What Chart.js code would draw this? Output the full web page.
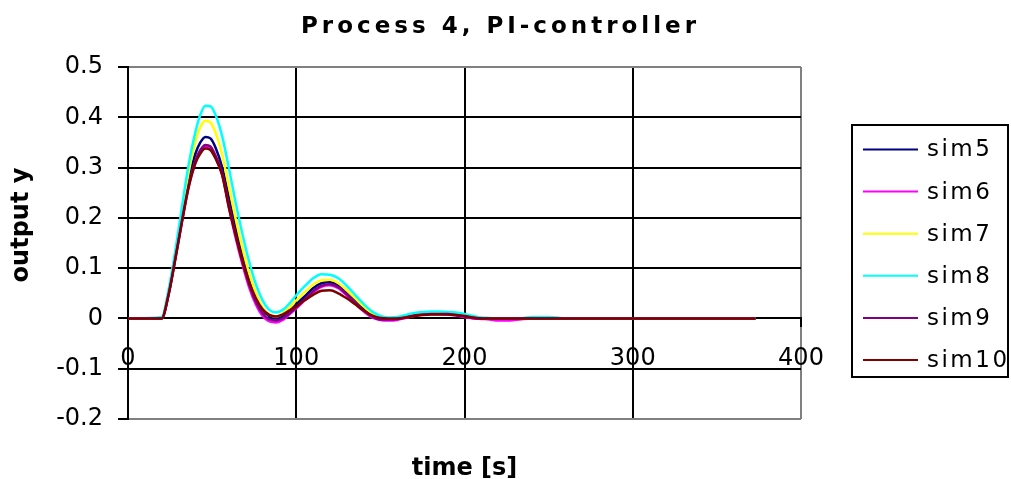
<!DOCTYPE html>
<html>
<head>
<meta charset="utf-8">
<script src="https://cdn.jsdelivr.net/npm/chart.js@4.4.0/dist/chart.umd.min.js"></script>
<style>
html,body{margin:0;padding:0;background:#fff;}
#wrap{width:1011px;height:479px;position:relative;}
</style>
</head>
<body>
<div id="wrap"><canvas id="c" width="1011" height="479"></canvas></div>
<script>
const TITLE = 'Process 4, PI-controller';
const X_TITLE = 'time [s]';
const Y_TITLE = 'output y';

const seriesNames = ['sim5', 'sim6', 'sim7', 'sim8', 'sim9', 'sim10'];
const seriesColors = ['#000080', '#FF00FF', '#FFFF00', '#00FFFF', '#800080', '#800000'];

const xTicks = [0, 100, 200, 300, 400];
const yTicks = [-0.2, -0.1, 0, 0.1, 0.2, 0.3, 0.4, 0.5];

const times = [0,20,24,28,32,36,40,43,46,49,52,56,60,64,68,72,76,80,84,88,92,96,100,105,110,115,120,125,130,135,140,145,150,155,160,165,170,175,180,185,190,195,200,205,210,215,220,225,230,235,240,245,250,255,260,373];

const sim5 = [0,0,0.048,0.12,0.2,0.275,0.327,0.35,0.361,0.358,0.34,0.3,0.24,0.18,0.125,0.078,0.042,0.017,0.004,0.0,0.004,0.015,0.028,0.044,0.06,0.07,0.072,0.066,0.052,0.036,0.02,0.008,0.001,-0.001,0,0.003,0.007,0.009,0.01,0.01,0.01,0.009,0.006,0.002,0,0,0,0,0,0,0,0,0,0,0,0];
const sim6 = [0,0,0.046,0.117,0.192,0.262,0.31,0.332,0.342,0.338,0.32,0.285,0.22,0.16,0.108,0.062,0.028,0.005,-0.006,-0.008,-0.003,0.008,0.02,0.036,0.052,0.063,0.066,0.06,0.046,0.03,0.014,0.002,-0.003,-0.004,-0.003,0.001,0.005,0.008,0.009,0.009,0.008,0.006,0.003,0,-0.001,-0.002,-0.004,-0.004,-0.003,-0.001,0,0,0,0,0,0];
const sim7 = [0,0,0.05,0.125,0.21,0.29,0.35,0.38,0.393,0.39,0.37,0.325,0.262,0.198,0.14,0.09,0.05,0.022,0.008,0.004,0.01,0.022,0.036,0.052,0.067,0.076,0.077,0.07,0.056,0.04,0.024,0.01,0.002,0,0.001,0.004,0.008,0.01,0.011,0.011,0.011,0.01,0.007,0.003,0.001,0,0,0,0,0,0,0,0,0,0,0];
const sim8 = [0,0.003,0.055,0.132,0.22,0.305,0.37,0.405,0.423,0.422,0.405,0.362,0.298,0.23,0.168,0.113,0.068,0.036,0.017,0.012,0.017,0.03,0.046,0.064,0.08,0.088,0.087,0.08,0.065,0.047,0.029,0.014,0.005,0.002,0.003,0.007,0.011,0.013,0.014,0.014,0.013,0.012,0.009,0.005,0.002,0.001,0,0,0,0.001,0.003,0.003,0.003,0.002,0,0];
const sim9 = [0,0,0.046,0.117,0.193,0.264,0.313,0.335,0.345,0.342,0.324,0.288,0.225,0.166,0.113,0.068,0.033,0.01,-0.002,-0.004,0,0.01,0.022,0.038,0.054,0.065,0.068,0.062,0.048,0.032,0.016,0.004,-0.002,-0.002,-0.001,0.002,0.006,0.008,0.009,0.009,0.009,0.007,0.004,0.001,0,0,0,0,0,0,0,0,0,0,0,0];
const sim10 = [0,0,0.045,0.115,0.19,0.26,0.308,0.328,0.338,0.335,0.318,0.285,0.22,0.165,0.115,0.072,0.04,0.018,0.007,0.004,0.008,0.016,0.024,0.036,0.047,0.055,0.056,0.05,0.04,0.028,0.016,0.006,0.001,0,0,0.002,0.005,0.007,0.008,0.008,0.008,0.007,0.005,0.002,0,0,0,0,0,0,0,0,0,0,0,0];

const seriesValues = [sim5, sim6, sim7, sim8, sim9, sim10];

const FONT = '"DejaVu Sans", sans-serif';

const datasets = seriesNames.map((name, i) => ({
  label: name,
  data: times.map((t, k) => ({x: t, y: seriesValues[i][k]})),
  borderColor: seriesColors[i],
  backgroundColor: seriesColors[i],
  borderWidth: 2.5,
  pointRadius: 0,
  fill: false,
  cubicInterpolationMode: 'monotone',
  order: seriesNames.length - i
}));

const textPlugin = {
  id: 'textPlugin',
  afterDraw(chart) {
    const ctx = chart.ctx;
    ctx.save();
    ctx.fillStyle = '#000';
    // chart title
    ctx.font = 'bold 23px ' + FONT;
    ctx.letterSpacing = '4px';
    ctx.textAlign = 'center';
    ctx.textBaseline = 'alphabetic';
    ctx.fillText(TITLE, 500.5, 33);
    // x axis title
    ctx.font = 'bold 24px ' + FONT;
    ctx.letterSpacing = '0px';
    const ca = chart.chartArea;
    ctx.fillText(X_TITLE, (ca.left + ca.right) / 2, 475);
    // y axis title
    ctx.save();
    ctx.translate(28, 225);
    ctx.rotate(-Math.PI / 2);
    ctx.fillText(Y_TITLE, 0, 0);
    ctx.restore();
    // legend
    const lx = 852, ly = 125, lw = 156, lh = 252;
    ctx.strokeStyle = '#000';
    ctx.lineWidth = 2;
    ctx.strokeRect(lx, ly, lw, lh);
    ctx.font = '23px ' + FONT;
    ctx.letterSpacing = '2.5px';
    ctx.textAlign = 'left';
    ctx.textBaseline = 'middle';
    chart.data.datasets.forEach((ds, i) => {
      const y = 149.5 + i * 42.1;
      ctx.strokeStyle = ds.borderColor;
      ctx.lineWidth = 2;
      ctx.beginPath();
      ctx.moveTo(863, y);
      ctx.lineTo(918, y);
      ctx.stroke();
      ctx.fillStyle = '#000';
      ctx.fillText(ds.label, 927, y + 1);
    });
    ctx.restore();
  }
};

new Chart(document.getElementById('c'), {
  type: 'line',
  data: { datasets },
  options: {
    responsive: false,
    animation: false,
    layout: { padding: { left: 0, right: 210, top: 67, bottom: 60 } },
    plugins: {
      legend: { display: false },
      title: { display: false },
      tooltip: { enabled: false }
    },
    scales: {
      x: {
        type: 'linear',
        position: { y: 0 },
        min: 0, max: 400,
        afterBuildTicks: (s) => { s.ticks = xTicks.map(v => ({value: v})); },
        ticks: { color: '#000', font: { family: FONT, size: 24 }, padding: 18, maxRotation: 0 },
        grid: {
          color: (c) => c.tick && c.tick.value === 400 ? '#808080' : '#000',
          lineWidth: 2,
          tickColor: '#000',
          tickLength: 8,
          drawTicks: true
        },
        border: { display: true, color: '#000', width: 2 }
      },
      y: {
        type: 'linear',
        position: 'left',
        min: -0.2, max: 0.5,
        afterBuildTicks: (s) => { s.ticks = yTicks.map(v => ({value: v})); },
        afterFit: (s) => { s.width = 128; },
        ticks: { color: '#000', font: { family: FONT, size: 24 }, padding: 15,
          callback: (v) => String(Math.round(v * 10) / 10) },
        grid: {
          color: (c) => c.tick && (c.tick.value === 0.5 || c.tick.value === -0.2) ? '#808080' : '#000',
          lineWidth: 2,
          tickColor: '#000',
          tickLength: 10
        },
        border: { display: true, color: '#000', width: 2 }
      }
    }
  },
  plugins: [textPlugin]
});
</script>
</body>
</html>
